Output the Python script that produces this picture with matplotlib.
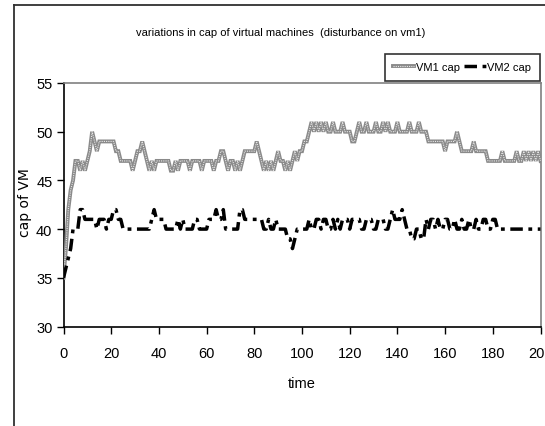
import matplotlib
matplotlib.use("Agg")
import matplotlib.pyplot as plt
from matplotlib.lines import Line2D
from matplotlib.legend_handler import HandlerTuple

# --- data -----------------------------------------------------------------
time = list(range(0, 201))

vm1_cap = [
    35, 38, 42, 44, 45, 47, 47, 46, 47, 46,      # 0-9
    47, 48, 50, 49, 48, 49, 49, 49, 49, 49,      # 10-19
    49, 49, 48, 48, 47, 47, 47, 47, 47, 46,      # 20-29
    47, 48, 48, 49, 48, 47, 46, 47, 46, 47,      # 30-39
    47, 47, 47, 47, 47, 46, 46, 47, 46, 47,      # 40-49
    47, 47, 47, 46, 47, 47, 47, 47, 46, 47,      # 50-59
    47, 47, 47, 46, 47, 47, 48, 48, 47, 46,      # 60-69
    47, 47, 46, 47, 46, 47, 48, 48, 48, 48,      # 70-79
    48, 49, 48, 47, 46, 47, 46, 47, 46, 47,      # 80-89
    48, 47, 47, 46, 47, 46, 47, 48, 47, 48,      # 90-99
    48, 49, 49, 50, 51, 50, 51, 50, 51, 50,      # 100-109
    51, 50, 50, 51, 50, 50, 50, 51, 50, 50,      # 110-119
    50, 49, 49, 50, 51, 50, 50, 51, 50, 50,      # 120-129
    50, 51, 50, 50, 51, 50, 51, 50, 50, 50,      # 130-139
    51, 50, 50, 50, 50, 51, 50, 50, 50, 51,      # 140-149
    50, 50, 50, 49, 49, 49, 49, 49, 49, 49,      # 150-159
    48, 49, 49, 49, 49, 50, 49, 48, 48, 48,      # 160-169
    48, 48, 49, 48, 48, 48, 48, 48, 47, 47,      # 170-179
    47, 47, 47, 47, 48, 47, 47, 47, 47, 47,      # 180-189
    48, 47, 47, 48, 47, 48, 47, 48, 47, 48,      # 190-199
    47,                                          # 200
]

vm2_cap = [
    35, 36, 37, 38, 40, 40, 40, 42, 42, 41,      # 0-9
    41, 41, 41, 41, 40, 41, 41, 41, 40, 41,      # 10-19
    41, 42, 42, 41, 41, 40, 40, 40, 40, 40,      # 20-29
    40, 40, 40, 40, 40, 40, 40, 41, 42, 41,      # 30-39
    41, 41, 41, 40, 40, 40, 40, 40, 41, 40,      # 40-49
    41, 40, 40, 40, 40, 41, 41, 40, 40, 40,      # 50-59
    40, 41, 41, 41, 42, 41, 41, 42, 40, 40,      # 60-69
    40, 40, 40, 40, 42, 42, 41, 41, 41, 41,      # 70-79
    41, 41, 41, 41, 40, 40, 41, 40, 40, 41,      # 80-89
    40, 40, 40, 40, 39, 39, 38, 39, 40, 40,      # 90-99
    40, 40, 40, 41, 40, 40, 41, 41, 40, 41,      # 100-109
    41, 40, 40, 41, 40, 41, 40, 41, 41, 41,      # 110-119
    40, 41, 41, 41, 41, 40, 40, 41, 41, 41,      # 120-129
    40, 40, 41, 41, 41, 40, 40, 41, 42, 41,      # 130-139
    41, 41, 42, 41, 40, 40, 39, 39, 40, 40,      # 140-149
    39, 39, 41, 40, 41, 41, 40, 41, 40, 40,      # 150-159
    41, 41, 40, 40, 41, 40, 40, 41, 40, 40,      # 160-169
    41, 40, 40, 41, 40, 40, 41, 41, 40, 40,      # 170-179
    41, 41, 40, 40, 40, 40, 40, 40, 40, 40,      # 180-189
    40, 40, 40, 40, 40, 40, 40, 40, 40, 40,      # 190-199
    40,                                          # 200
]

x_ticks = [0, 20, 40, 60, 80, 100, 120, 140, 160, 180, 200]
y_ticks = [30, 35, 40, 45, 50, 55]

title_text = "variations in cap of virtual machines  (disturbance on vm1)"
series_names = ["VM1 cap", "VM2 cap"]

# --- figure ---------------------------------------------------------------
plt.rcParams["font.family"] = ["Liberation Sans Narrow", "Liberation Sans", "DejaVu Sans"]

W, H = 545, 427
fig = plt.figure(figsize=(W / 100, H / 100), dpi=100)
fig.patch.set_facecolor("white")

ax = fig.add_axes([63.5 / W, 1 - 327.5 / H, (540.5 - 63.5) / W, (327.5 - 84.0) / H])
ax.set_facecolor("white")

# VM1: grey textured band (grey stroke with a light dotted core)
vm1_base, = ax.plot(time, vm1_cap, color="#8a8a8a", lw=2.8, solid_joinstyle="miter",
                    zorder=3)
vm1_core, = ax.plot(time, vm1_cap, color="#e8e8e8", lw=0.8, linestyle=(0, (1, 1)),
                    zorder=4)

# VM2: heavy black long-dash / dot line
vm2_line, = ax.plot(time, vm2_cap, color="black", lw=2.5,
                    linestyle=(0, (3.6, 1.6, 1.1, 1.6)),
                    dash_capstyle="butt", zorder=5)

ax.set_xlim(0, 200)
ax.set_ylim(30, 55)
ax.set_xticks(x_ticks)
ax.set_yticks(y_ticks)
ax.tick_params(axis="both", direction="out", length=5, width=1, color="black",
               labelsize=10.5, pad=3)
ax.tick_params(axis="x", pad=9)

for side in ("left", "bottom"):
    ax.spines[side].set_color("black")
    ax.spines[side].set_linewidth(1.2)
for side in ("top", "right"):
    ax.spines[side].set_color("#808080")
    ax.spines[side].set_linewidth(1.2)

ax.set_xlabel("time", fontsize=10.5)
ax.xaxis.set_label_coords(0.5, (327.5 - 377) / 243.5)
ax.set_ylabel("cap of VM", fontsize=10, family=["DejaVu Sans"])
ax.yaxis.set_label_coords((32 - 63.5) / 477, (327.5 - 203) / 243.5)

fig.text(281 / W, 1 - 33 / H, title_text, ha="center", va="center", fontsize=8)

# chart-area frame (left and top edges)
fig.add_artist(Line2D([13.5 / W, 13.5 / W], [0, 1 - 5.5 / H], color="#303030",
                      lw=1.3, transform=fig.transFigure))
fig.add_artist(Line2D([13.5 / W, 1], [1 - 5.5 / H, 1 - 5.5 / H], color="#303030",
                      lw=1.3, transform=fig.transFigure))

leg = fig.legend([(vm1_base, vm1_core), vm2_line], series_names,
                 handler_map={tuple: HandlerTuple(ndivide=1)},
                 loc="upper right", bbox_to_anchor=(539.5 / W, 1 - 55 / H),
                 ncol=2, frameon=True, fancybox=False, fontsize=8,
                 handlelength=1.9, handletextpad=0.15, columnspacing=0.4,
                 borderpad=0.75, borderaxespad=0)
leg.get_frame().set_edgecolor("black")
leg.get_frame().set_linewidth(1.2)

fig.savefig("out.png", dpi=100, facecolor="white")
